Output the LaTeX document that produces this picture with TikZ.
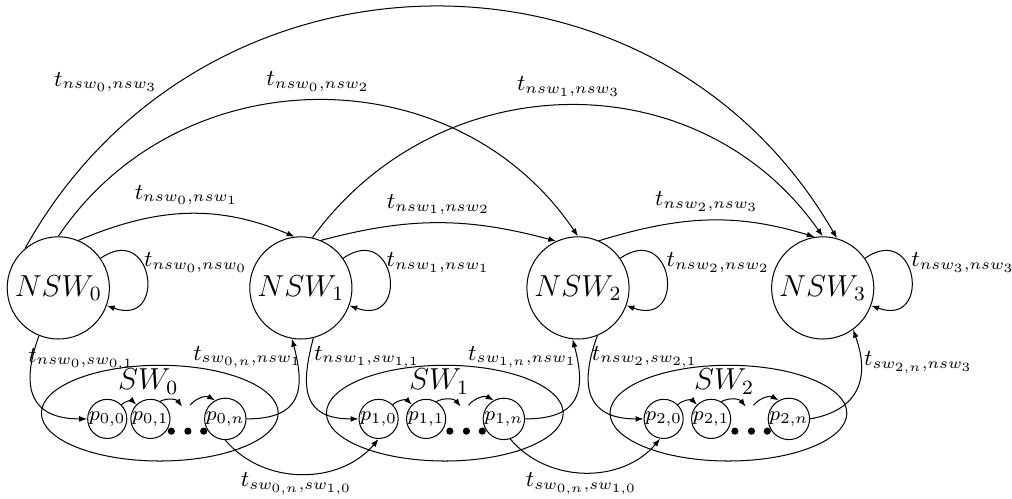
\documentclass[tikz,border=0pt]{standalone}
\usepackage{amsmath,amssymb}
\usetikzlibrary{arrows.meta,positioning,shapes.geometric}

\begin{document}
\begin{tikzpicture}[>={Latex[length=1.1mm,width=0.8mm]},
  nsw/.style={draw,circle,minimum size=1.42cm,inner sep=0pt,font=\large},
  pst/.style={draw,circle,minimum size=0.54cm,inner sep=0pt,font=\footnotesize},
  swbox/.style={draw,ellipse,minimum width=3.29cm,minimum height=1.33cm,inner sep=0pt},
  lbl/.style={font=\small},
  selfloop/.style={out=35,in=-20,min distance=9mm}]
  \useasboundingbox (0,0) rectangle (14.06,6.93);

  % non-switch states
  \node[nsw] (NSW0) at (0.81,2.93) {$NSW_0$};
  \node[nsw] (NSW1) at (4.18,2.93) {$NSW_1$};
  \node[nsw] (NSW2) at (8.03,2.93) {$NSW_2$};
  \node[nsw] (NSW3) at (11.43,2.93) {$NSW_3$};

  % switch groups
  \foreach \i/\a/\b/\c/\e/\l in {0/1.49/2.09/3.13/2.22/2.06,
      1/5.26/5.92/7.00/6.18/6.10, 2/9.22/9.88/10.96/10.12/10.06}{
    \node[swbox] (SW\i) at (\e,1.19) {};
    \node[font=\large] (SW\i name) at (\l,1.63) {$SW_\i$};
    \node[pst] (p\i-0) at (\a,1.11) {$p_{\i,0}$};
    \node[pst] (p\i-1) at (\b,1.11) {$p_{\i,1}$};
    \node[pst] (p\i-n) at (\c,1.11) {$p_{\i,n}$};
    \coordinate (d\i in) at ([shift={(-0.6,0.17)}]p\i-n);
    \coordinate (d\i out) at ([shift={(-0.49,0.19)}]p\i-n);
    \foreach \dx in {-0.75,-0.52,-0.3}
      \fill ([shift={(\dx,-0.17)}]p\i-n) circle (0.05);
    \draw[->] (p\i-0) to[bend left=45] (p\i-1);
    \draw[->] (p\i-1) to[bend left=40] (d\i in);
    \draw[->] (d\i out) to[bend left=40] (p\i-n);
  }

  % self loops
  \foreach \i/\x in {0/2.72,1/6.09,2/9.98,3/13.38}{
    \draw[->] (NSW\i) to[selfloop] (NSW\i);
    \node[lbl] (t\i\i) at (\x,3.28) {$t_{nsw_\i,nsw_\i}$};
  }

  % between non-switch states
  \draw[->] (NSW0.67) to[out=23,in=157] node[above,lbl] (t01) {$t_{nsw_0,nsw_1}$} (NSW1.97);
  \draw[->] (NSW1.67) to[out=15,in=165] node[above,lbl] (t12) {$t_{nsw_1,nsw_2}$} (NSW2.115);
  \draw[->] (NSW2.66) to[out=17,in=163] node[above,lbl] (t23) {$t_{nsw_2,nsw_3}$} (NSW3.99);
  \draw[->] (NSW0.90) to[out=56,in=124,looseness=1.08] node[above,lbl] (t02) {$t_{nsw_0,nsw_2}$} (NSW2.90);
  \draw[->] (NSW1.77) to[out=54,in=125,looseness=1.08] node[above,lbl] (t13) {$t_{nsw_1,nsw_3}$} (NSW3.90);
  \draw[->] (NSW0.130) to[out=61,in=120,looseness=1.14] (NSW3.74);
  \node[lbl] (t03) at (1.47,5.79) {$t_{nsw_0,nsw_3}$};

  % into and out of the switch groups
  \draw[->] (NSW0.248) to[out=250,in=180,looseness=1.5] (p0-0.west);
  \node[lbl] (tin0) at (1.13,1.94) {$t_{nsw_0,sw_{0,1}}$};
  \draw[->] (p0-n.east) to[out=0,in=-75,looseness=1.5] (NSW1.260);
  \node[lbl] (tout0) at (3.44,1.97) {$t_{sw_{0,n},nsw_1}$};
  \draw[->] (NSW1.284) to[out=255,in=180,looseness=1.5] (p1-0.west);
  \node[lbl] (tin1) at (5.10,1.97) {$t_{nsw_1,sw_{1,1}}$};
  \draw[->] (p1-n.east) to[out=0,in=-75,looseness=1.5] (NSW2.264);
  \node[lbl] (tout1) at (7.26,1.97) {$t_{sw_{1,n},nsw_1}$};
  \draw[->] (NSW2.292) to[out=250,in=180,looseness=1.5] (p2-0.west);
  \node[lbl] (tin2) at (8.96,1.97) {$t_{nsw_2,sw_{2,1}}$};
  \draw[->] (p2-n.east) to[out=10,in=-70,looseness=1.3] (NSW3.-54);
  \node[lbl] (tout2) at (12.76,1.89) {$t_{sw_{2,n},nsw_3}$};

  % between switch groups
  \draw[->] (p0-n.south) to[out=-50,in=-130] (p1-0.south);
  \node[lbl] (tsw01) at (4.12,0.21) {$t_{sw_{0,n},sw_{1,0}}$};
  \draw[->] (p1-n.-72) to[out=-50,in=-130] (p2-0.-100);
  \node[lbl] (tsw12) at (8.08,0.21) {$t_{sw_{0,n},sw_{1,0}}$};
\end{tikzpicture}
\end{document}
